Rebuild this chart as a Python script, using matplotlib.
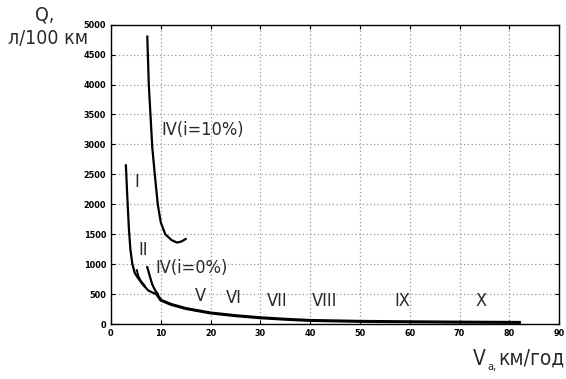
import numpy as np
import matplotlib
matplotlib.use('Agg')
import matplotlib.pyplot as plt

# data
# IV (i=10%)
x_iv10 = [7.3, 7.6, 8.0, 8.3, 8.8, 9.4, 10.0, 10.9, 12.2, 13.3, 14.2, 15.0]
y_iv10 = [4800, 4000, 3400, 2950, 2500, 2000, 1700, 1500, 1400, 1360, 1380, 1420]
# I
x_i = [3.0, 3.3, 3.6, 3.9, 4.3, 4.8, 5.5, 6.5, 7.5, 8.5, 9.2]
y_i = [2650, 2100, 1600, 1250, 1000, 850, 760, 650, 560, 520, 500]
# II
x_ii = [5.2, 5.5, 6.0, 6.8]
y_ii = [900, 800, 720, 640]
# IV (i=0%)
x_iv0 = [7.3, 7.8, 8.3, 8.9, 9.4]
y_iv0 = [950, 800, 660, 560, 500]
# common tail V..X
x_tail = [9.2, 10, 12, 15, 20, 25, 30, 35, 40, 50, 60, 70, 80, 82]
y_tail = [500, 400, 330, 260, 185, 140, 105, 80, 60, 45, 38, 32, 28, 27]

labels = ['I', 'II', 'IV(i=0%)', 'IV(i=10%)', 'V', 'VI', 'VII', 'VIII', 'IX', 'X']
lab_x = [5.1, 6.5, 9.0, 10.2, 18.0, 24.7, 33.3, 42.9, 58.6, 74.3]
lab_y = [2380, 1240, 935, 3240, 470, 440, 390, 390, 390, 390]

xticks = list(range(0, 91, 10))
yticks = list(range(0, 5001, 500))

fam = ['DejaVu Sans']
st = 'condensed'
txtc = '#2a2a2a'

fig = plt.figure(figsize=(5.66, 3.79), dpi=100)
ax = fig.add_axes([0.196, 0.145, 0.792, 0.79])

ax.plot(x_iv10, y_iv10, color='black', lw=1.6)
ax.plot(x_i, y_i, color='black', lw=1.6)
ax.plot(x_ii, y_ii, color='black', lw=1.4)
ax.plot(x_iv0, y_iv0, color='black', lw=1.6)
ax.plot(x_tail, y_tail, color='black', lw=2.2)

for t, xx, yy in zip(labels, lab_x, lab_y):
    ax.text(xx, yy, t, fontsize=13, family=fam, stretch=st, color=txtc,
            ha='left' if t.startswith('IV') else 'center', va='center')

ax.set_xlim(0, 90)
ax.set_ylim(0, 5000)
ax.set_xticks(xticks)
ax.set_yticks(yticks)
ax.grid(True, color='#999999', linestyle=(0, (1, 2)), linewidth=0.9)
ax.tick_params(direction='in', top=True, right=True, length=3, labelsize=6.5)
for lab in ax.get_xticklabels() + ax.get_yticklabels():
    lab.set_fontweight('bold')
    lab.set_fontstretch('condensed')
for s in ax.spines.values():
    s.set_linewidth(1.0)

fig.text(45 / 566, 1 - 15 / 379, 'Q,', fontsize=14, family=fam, stretch=st, ha='center', va='center', color=txtc)
fig.text(48 / 566, 1 - 38 / 379, 'л/100 км', fontsize=14, family=fam, stretch=st, ha='center', va='center', color=txtc)
fig.text(473 / 566, 1 - 365 / 379, 'V', fontsize=15, family=fam, stretch=st, ha='left', va='baseline', color=txtc)
fig.text(487 / 566, 1 - 370 / 379, 'а,', fontsize=8, family=fam, stretch=st, ha='left', va='baseline', color=txtc)
fig.text(498 / 566, 1 - 365 / 379, 'км/год', fontsize=15, family=fam, stretch=st, ha='left', va='baseline', color=txtc)

fig.savefig('out.png', dpi=100)
